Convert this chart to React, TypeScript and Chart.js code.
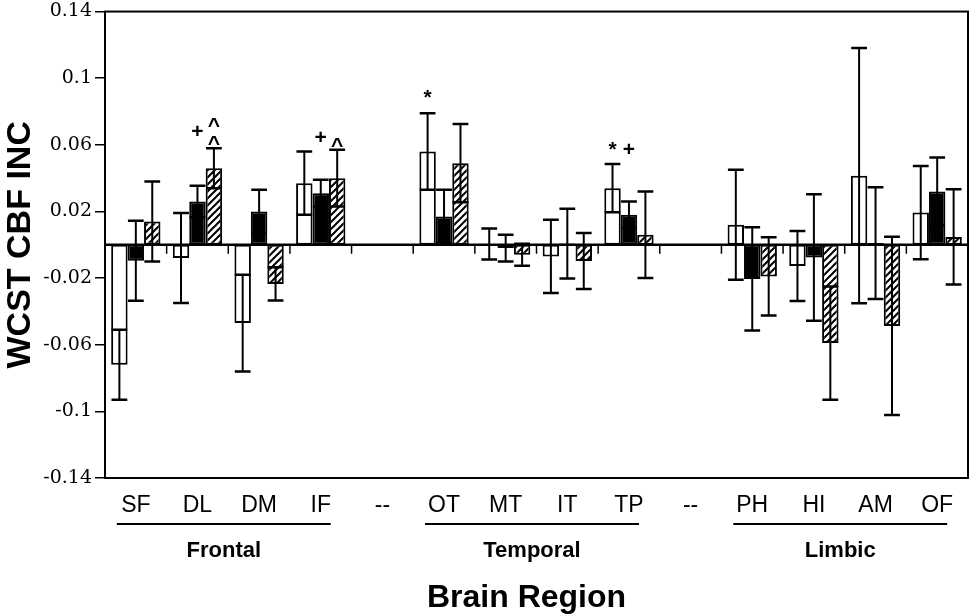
import React, { useEffect, useRef } from "react";
import { Chart, registerables } from "chart.js";
Chart.register(...registerables);

// ---- data ----
const categories = ["SF", "DL", "DM", "IF", "--", "OT", "MT", "IT", "TP", "--", "PH", "HI", "AM", "OF"];
const openValues = [-0.072, -0.008, -0.047, 0.037, null, 0.056, 0.0005, -0.007, 0.034, null, 0.012, -0.0127, 0.0415, 0.0193];
const openErrors = [0.021, 0.027, 0.029, 0.019, null, 0.023, 0.0093, 0.022, 0.0145, null, 0.033, 0.021, 0.0766, 0.028];
const solidValues = [-0.0096, 0.026, 0.02, 0.031, null, 0.017, -0.002, 0.0007, 0.018, null, -0.0205, -0.0076, 0.001, 0.032];
const solidErrors = [0.024, 0.0095, 0.013, 0.008, null, 0.016, 0.008, 0.021, 0.008, null, 0.031, 0.038, 0.0336, 0.0204];
const hatchValues = [0.014, 0.046, -0.0235, 0.04, null, 0.049, -0.006, -0.0097, 0.006, null, -0.019, -0.059, -0.0487, 0.0047];
const hatchErrors = [0.024, 0.012, 0.01, 0.017, null, 0.0235, 0.0066, 0.0168, 0.026, null, 0.0235, 0.034, 0.0535, 0.0286];

const yTickValues = [0.14, 0.1, 0.06, 0.02, -0.02, -0.06, -0.1, -0.14];
const yTickLabels = ["0.14", "0.1", "0.06", "0.02", "-0.02", "-0.06", "-0.1", "-0.14"];

const groupNames = ["Frontal", "Temporal", "Limbic"];
const groupFirst = [0, 5, 10];
const groupLast = [3, 8, 13];

const annotCategory = [1, 1, 1, 3, 3, 5, 8, 8];
const annotSeries = [1, 2, 2, 1, 2, 0, 0, 1];
const annotValue = [0.0676, 0.0622, 0.073, 0.064, 0.061, 0.088, 0.0569, 0.0569];
const annotText = ["+", "^", "^", "+", "^", "*", "*", "+"];

const yTitle = "WCST CBF INC";
const xTitle = "Brain Region";

const errorSets = [openErrors, solidErrors, hatchErrors];

function makeHatch(): CanvasPattern | string {
  const c = document.createElement("canvas");
  const s = 7;
  c.width = s;
  c.height = s;
  const g = c.getContext("2d");
  if (!g) return "#fff";
  g.fillStyle = "#fff";
  g.fillRect(0, 0, s, s);
  g.strokeStyle = "#000";
  g.lineWidth = 2;
  g.beginPath();
  g.moveTo(-1, s + 1);
  g.lineTo(s + 1, -1);
  g.moveTo(-2, 2);
  g.lineTo(2, -2);
  g.moveTo(s - 2, s + 2);
  g.lineTo(s + 2, s - 2);
  g.stroke();
  const p = g.createPattern(c, "repeat");
  return p || "#fff";
}

const decorPlugin = {
  id: "decor",
  afterDatasetsDraw(chart: any) {
    const ctx = chart.ctx;
    const y = chart.scales.y;
    const area = chart.chartArea;
    const zeroY = y.getPixelForValue(0);
    ctx.save();
    ctx.strokeStyle = "#000";
    ctx.lineWidth = 2.5;
    ctx.beginPath();
    ctx.moveTo(area.left, zeroY);
    ctx.lineTo(area.right, zeroY);
    ctx.stroke();
    const n = categories.length;
    const step = (area.right - area.left) / n;
    ctx.lineWidth = 1.5;
    for (let k = 1; k < n; k++) {
      const px = area.left + step * k;
      ctx.beginPath();
      ctx.moveTo(px, zeroY);
      ctx.lineTo(px, zeroY + 9);
      ctx.stroke();
    }
    chart.data.datasets.forEach((ds: any, i: number) => {
      const meta = chart.getDatasetMeta(i);
      const errs = errorSets[i];
      meta.data.forEach((bar: any, j: number) => {
        const v = ds.data[j];
        const e = errs[j];
        if (v === null || e === null || bar == null) return;
        const bx = bar.x;
        const hw = (bar.width || 16) * 0.48;
        const yTop = y.getPixelForValue(v + e);
        const yBot = y.getPixelForValue(v - e);
        ctx.strokeStyle = "#000";
        ctx.lineWidth = 2;
        ctx.beginPath();
        ctx.moveTo(bx, yTop);
        ctx.lineTo(bx, yBot);
        ctx.stroke();
        ctx.lineWidth = 2.5;
        ctx.beginPath();
        ctx.moveTo(bx - hw, yTop);
        ctx.lineTo(bx + hw, yTop);
        ctx.moveTo(bx - hw, yBot);
        ctx.lineTo(bx + hw, yBot);
        ctx.stroke();
      });
    });
    ctx.fillStyle = "#000";
    ctx.font = "bold 21px 'Liberation Sans', Arial, sans-serif";
    ctx.textAlign = "center";
    ctx.textBaseline = "middle";
    for (let k = 0; k < annotText.length; k++) {
      const meta = chart.getDatasetMeta(annotSeries[k]);
      const bar = meta.data[annotCategory[k]];
      if (!bar) continue;
      ctx.fillText(annotText[k], bar.x, y.getPixelForValue(annotValue[k]) + (annotText[k] === "^" ? 3 : 0));
    }
    ctx.lineWidth = 2;
    ctx.strokeRect(area.left, area.top, area.right - area.left, area.bottom - area.top);
    ctx.restore();
  },
  afterDraw(chart: any) {
    const ctx = chart.ctx;
    const x = chart.scales.x;
    const area = chart.chartArea;
    ctx.save();
    ctx.fillStyle = "#000";
    ctx.strokeStyle = "#000";
    for (let g = 0; g < groupNames.length; g++) {
      const x0 = x.getPixelForValue(groupFirst[g]) - 19;
      const x1 = x.getPixelForValue(groupLast[g]) + 10;
      ctx.lineWidth = 2;
      ctx.beginPath();
      ctx.moveTo(x0, area.bottom + 46);
      ctx.lineTo(x1, area.bottom + 46);
      ctx.stroke();
      ctx.font = "bold 22px 'Liberation Sans', Arial, sans-serif";
      ctx.textAlign = "center";
      ctx.textBaseline = "middle";
      ctx.fillText(groupNames[g], (x0 + x1) / 2, area.bottom + 73);
    }
    ctx.font = "bold 32px 'Liberation Sans', Arial, sans-serif";
    ctx.textAlign = "center";
    ctx.textBaseline = "middle";
    ctx.fillText(xTitle, (area.left + area.right) / 2 - 10, area.bottom + 120);
    ctx.restore();
  },
};

export default function App() {
  const ref = useRef<HTMLCanvasElement | null>(null);
  useEffect(() => {
    if (!ref.current) return;
    const hatch = makeHatch();
    const chart = new Chart(ref.current, {
      type: "bar",
      data: {
        labels: categories,
        datasets: [
          { label: "open", data: openValues, backgroundColor: "#fff", borderColor: "#000", borderWidth: 2, borderSkipped: false },
          { label: "solid", data: solidValues, backgroundColor: "#000", borderColor: "#000", borderWidth: 2, borderSkipped: false },
          { label: "hatched", data: hatchValues, backgroundColor: hatch as any, borderColor: "#000", borderWidth: 2, borderSkipped: false },
        ],
      },
      options: {
        animation: false,
        responsive: true,
        maintainAspectRatio: false,
        layout: { padding: { top: 0, right: 7, bottom: 0, left: 0 } },
        plugins: { legend: { display: false }, tooltip: { enabled: false } },
        datasets: { bar: { categoryPercentage: 0.8, barPercentage: 1.0 } },
        scales: {
          x: {
            grid: { display: false, drawTicks: false },
            border: { display: false },
            ticks: {
              color: "#000",
              font: { family: "'Liberation Sans Narrow', 'Liberation Sans', Arial, sans-serif", size: 23 },
              padding: 14,
              maxRotation: 0,
              autoSkip: false,
            },
            afterFit: (s: any) => {
              s.height = 136;
            },
          },
          y: {
            min: -0.14,
            max: 0.14,
            afterBuildTicks: (s: any) => {
              s.ticks = yTickValues.map((v) => ({ value: v }));
            },
            afterFit: (s: any) => {
              s.width = 105;
            },
            grid: { display: true, drawOnChartArea: false, drawTicks: true, tickLength: 10, color: "#000", lineWidth: 1.5 },
            border: { display: true, color: "#000", width: 2 },
            ticks: {
              color: "#000",
              padding: 3,
              font: { family: "'DejaVu Serif', 'Liberation Serif', serif", size: 19, lineHeight: 0.9 },
              callback: (value: any) => {
                const i = yTickValues.findIndex((t) => Math.abs(t - Number(value)) < 1e-9);
                return i >= 0 ? yTickLabels[i] : "";
              },
            },
            title: {
              display: true,
              text: yTitle,
              color: "#000",
              font: { family: "'Liberation Sans', Arial, sans-serif", size: 34, weight: "bold" },
              padding: { top: 0, bottom: 0 },
            },
          },
        },
      },
      plugins: [decorPlugin],
    });
    return () => chart.destroy();
  }, []);
  return (
    <div style={{ position: "fixed", left: 0, top: 0, width: 975, height: 614, background: "#fff" }}>
      <canvas ref={ref} />
    </div>
  );
}
